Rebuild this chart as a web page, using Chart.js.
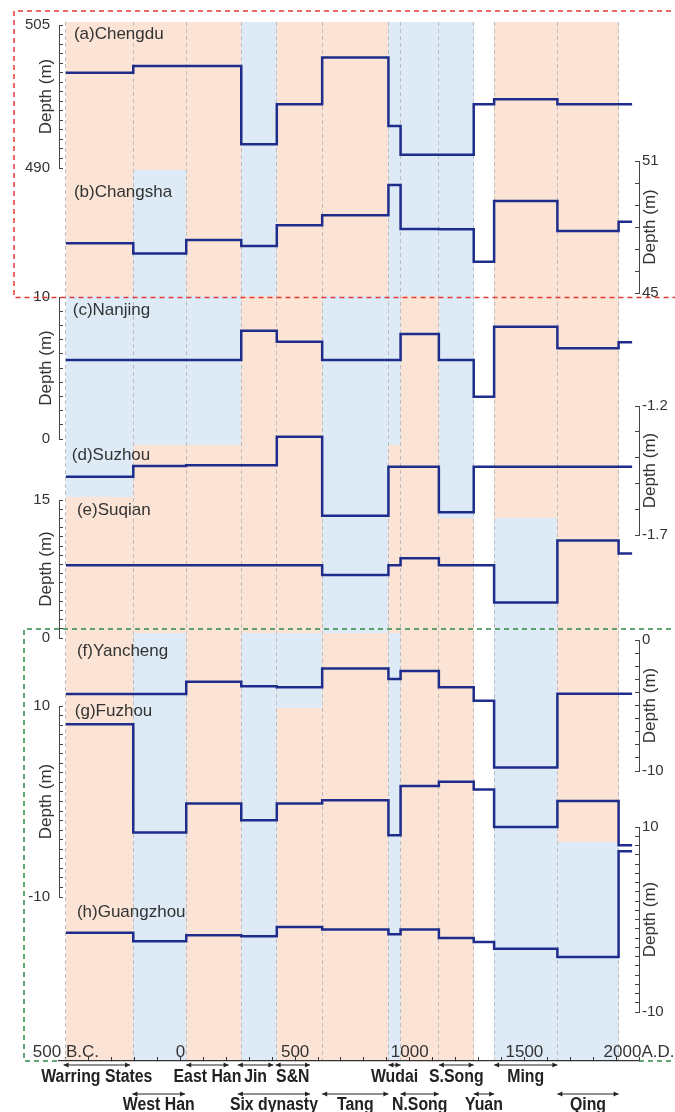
<!DOCTYPE html>
<html lang="en">
<head>
<meta charset="UTF-8">
<title>Depth of dynasty layers, eight cities</title>
<script src="https://cdn.jsdelivr.net/npm/chart.js@4.4.1/dist/chart.umd.min.js"></script>
<style>
  body { margin: 0; background: #fff; }
  #wrap { width: 675px; height: 1112px; }
</style>
</head>
<body>
<div id="wrap"><canvas id="depth-chart" width="675" height="1112"></canvas></div>
<script>
// period starts (year, negative = B.C.), last record runs to recordEnd
const periodStarts = [-500, -206, 25, 265, 420, 618, 907, 960, 1127, 1279, 1368, 1644, 1911];
const recordEnd = 1970;

// depth per period
const chengdu   = [500.0, 500.7, 500.7, 492.5, 496.7, 501.6, 494.4, 491.4, 491.4, 496.7, 497.2, 496.7, 496.7];
const changsha  = [47.26, 46.80, 47.41, 47.14, 48.08, 48.53, 49.91, 47.91, 47.90, 46.42, 49.18, 47.82, 48.24];
const nanjing   = [5.56, 5.56, 5.56, 7.63, 6.85, 5.56, 5.56, 7.39, 5.56, 2.98, 7.91, 6.39, 6.81];
const suzhou    = [-1.474, -1.433, -1.430, -1.430, -1.319, -1.625, -1.435, -1.435, -1.612, -1.435, -1.435, -1.435, -1.435];
const suqian    = [7.91, 7.91, 7.91, 7.91, 7.91, 6.84, 7.91, 8.68, 7.91, 7.91, 3.86, 10.59, 9.19];
const yancheng  = [-4.13, -4.13, -3.19, -3.54, -3.60, -2.17, -2.98, -2.37, -3.60, -4.64, -9.74, -4.11, -4.11];
const fuzhou    = [8.08, -3.25, -0.21, -1.96, -0.21, 0.14, -3.54, 1.61, 2.06, 1.26, -2.67, 0.06, -4.59];
const guangzhou = [-1.42, -2.36, -1.71, -1.82, -0.81, -1.09, -1.60, -1.09, -2.00, -2.43, -3.15, -4.05, 7.37];

const seriesValues = [chengdu, changsha, nanjing, suzhou, suqian, yancheng, fuzhou, guangzhou];
const panelNames = ['(a)Chengdu', '(b)Changsha', '(c)Nanjing', '(d)Suzhou', '(e)Suqian', '(f)Yancheng', '(g)Fuzhou', '(h)Guangzhou'];
const axisIds  = ['yA', 'yB', 'yC', 'yD', 'yE', 'yF', 'yG', 'yH'];
const axisMin  = [490, 45, 0, -1.7, 0, -10, -10, -10];
const axisMax  = [505, 51, 10, -1.2, 15, 0, 10, 10];
const axisStep = [1, 1, 1, 0.1, 1, 1, 1, 1];

// where each panel name sits (year, depth on its own axis)
const panelLabelYear  = [-465, -465, -470, -474, -452, -452, -461, -452];
const panelLabelDepth = [504.06, 49.59, 9.08, -1.39, 13.9, -0.84, 9.48, 0.78];

// warm (p) / cold (b) / none (w) shading per period, one row per horizontal strip
const bandAxes   = ['yA', 'yB', 'yC', 'yD', 'yD', 'yE', 'yF', 'yG', 'yH'];
const bandTop    = [505.3, 50.59, 10.04, -1.351, -1.553, 13.02, 0.54, 9.79, 8.35];
const bandBottom = [489.78, 44.84, -0.42, -1.553, -1.634, 0.34, -5.20, -4.27, -15.33];
const bandCodes  = [
  'pppbppbbbwpp',
  'pbpbppbbbwpp',
  'bbbppbbpbwpp',
  'bppppbppbwpp',
  'pppppbppbwpp',
  'pppppbpppwbp',
  'pbpbbpbppwbp',
  'pbpbppbppwbp',
  'pbpbppbppwbb'
];

// x axis labels
const xTickYears  = [-500, 0, 500, 1000, 1500, 2000];
const xTickLabels = ['500 B.C.', '0', '500', '1000', '1500', '2000A.D.'];

// dynasty spans under the axis
const upperNames = ['Warring States', 'East Han', 'Jin', 'S&N', 'Wudai', 'S.Song', 'Ming'];
const upperFrom  = [-510, 25, 250, 415, 907, 1127, 1368];
const upperTo    = [-220, 210, 405, 565, 960, 1279, 1644];
const lowerNames = ['West Han', 'Six dynasty', 'Tang', 'N.Song', 'Yuan', 'Qing'];
const lowerFrom  = [-210, 250, 618, 960, 1279, 1644];
const lowerTo    = [20, 565, 907, 1127, 1368, 1911];

const PEACH = '#fbe4d5';
const BLUE = '#deebf7';
const LINE = '#1e2c8c';
const TXT = '#333';
const FONT = "'Liberation Sans', Arial, sans-serif";

function makeTicks(min, max, step) {
  const out = [];
  const n = Math.round((max - min) / step);
  for (let i = 0; i <= n; i++) out.push({ value: Math.round((min + i * step) * 1000) / 1000 });
  return out;
}

// x axis labels hang over the edges; don't let them squeeze the plot
function noEdgePadding(s) {
  s.paddingLeft = 0; s.paddingRight = 0;
}

const scales = {
  x: {
    type: 'linear', position: 'bottom', min: -530, max: 2000,
    afterBuildTicks: s => { s.ticks = makeTicks(-500, 2000, 100); },
    afterFit: s => { s.height = 1; noEdgePadding(s); },
    ticks: {
      autoSkip: false, maxRotation: 0, mirror: true, padding: -2, color: TXT,
      font: { size: 17, family: FONT },
      callback: v => { const k = xTickYears.indexOf(v); return k >= 0 ? xTickLabels[k] : ''; }
    },
    grid: { drawOnChartArea: false, drawTicks: true, tickLength: -4, tickColor: '#333' },
    border: { display: true, color: '#333', width: 1.2 }
  },
  xg: {
    type: 'linear', position: 'bottom', min: -530, max: 2000,
    afterBuildTicks: s => { s.ticks = periodStarts.map(v => ({ value: v })); },
    afterFit: s => { s.height = 0; noEdgePadding(s); },
    ticks: { display: false },
    grid: { color: '#bdbdbd', lineWidth: 1, drawTicks: false },
    border: { display: false, dash: [4, 3] }
  }
};

// left and right stacks of axes, gaps filled with hidden axes
const leftStack  = [['Lg0', 3], ['yA', 143], ['Lg1', 129], ['yC', 142], ['Lg2', 61], ['yE', 138], ['Lg3', 68], ['yG', 191], ['Lg4', 164]];
const rightStack = [['Rg0', 139], ['yB', 132], ['Rg1', 113], ['yD', 129], ['Rg2', 105], ['yF', 131], ['Rg3', 56], ['yH', 185], ['Rg4', 49]];

function addStack(list, pos) {
  list.forEach(([id, h], i) => {
    const weight = pos === 'left' ? list.length - i : i + 1;
    const k = axisIds.indexOf(id);
    if (k < 0) {
      scales[id] = { type: 'linear', display: false, position: pos, stack: pos, stackWeight: h, weight: weight };
      return;
    }
    const min = axisMin[k], max = axisMax[k];
    scales[id] = {
      type: 'linear', position: pos, stack: pos, stackWeight: h, weight: weight,
      min: min, max: max,
      afterBuildTicks: s => { s.ticks = makeTicks(min, max, axisStep[k]); },
      afterFit: s => { s.width = pos === 'left' ? 59 : 36; },
      ticks: {
        autoSkip: false, padding: pos === 'left' ? 13 : 7, color: TXT,
        font: { size: 15, family: FONT },
        callback: v => (Math.abs(v - min) < 1e-6 || Math.abs(v - max) < 1e-6) ? String(Math.round(v * 10) / 10) : ''
      },
      grid: { drawOnChartArea: false, drawTicks: true, tickLength: -4, tickColor: '#444', lineWidth: 1 },
      border: { display: true, color: '#444', width: 1 }
    };
  });
}
addStack(leftStack, 'left');
addStack(rightStack, 'right');

const datasets = seriesValues.map((vals, i) => ({
  label: panelNames[i],
  yAxisID: axisIds[i],
  xAxisID: 'x',
  data: periodStarts.map((yr, k) => ({ x: yr, y: vals[k] })).concat([{ x: recordEnd, y: vals[vals.length - 1] }]),
  stepped: true,
  borderColor: LINE,
  borderWidth: 2.5,
  pointRadius: 0,
  fill: false
}));

const bandPlugin = {
  id: 'bands',
  beforeDraw(chart) {
    const ctx = chart.ctx, xs = chart.scales.x;
    ctx.save();
    bandCodes.forEach((row, r) => {
      const ys = chart.scales[bandAxes[r]];
      const top = Math.round(ys.getPixelForValue(bandTop[r]));
      const bot = Math.round(ys.getPixelForValue(bandBottom[r]));
      for (let c = 0; c < row.length; c++) {
        if (row[c] === 'w') continue;
        const x0 = Math.round(xs.getPixelForValue(periodStarts[c]));
        const x1 = Math.round(xs.getPixelForValue(periodStarts[c + 1]));
        ctx.fillStyle = row[c] === 'p' ? PEACH : BLUE;
        ctx.fillRect(x0, top, x1 - x0, bot - top);
      }
    });
    ctx.restore();
  }
};

function arrow(ctx, x0, x1, y) {
  ctx.beginPath();
  ctx.moveTo(x0, y); ctx.lineTo(x1, y);
  ctx.stroke();
  [[x0, 1], [x1, -1]].forEach(([x, d]) => {
    ctx.beginPath();
    ctx.moveTo(x, y);
    ctx.lineTo(x + d * 5, y - 2.5);
    ctx.lineTo(x + d * 5, y + 2.5);
    ctx.closePath();
    ctx.fill();
  });
}

// narrow bold text: squeeze a bold face sideways
function narrowText(ctx, text, cx, y) {
  ctx.save();
  ctx.translate(cx, y);
  ctx.scale(0.88, 1);
  ctx.fillText(text, 0, 0);
  ctx.restore();
}

const notesPlugin = {
  id: 'notes',
  afterDraw(chart) {
    const ctx = chart.ctx, xs = chart.scales.x, area = chart.chartArea;
    ctx.save();

    // panel names
    ctx.fillStyle = TXT;
    ctx.font = '17px ' + FONT;
    ctx.textAlign = 'left';
    ctx.textBaseline = 'middle';
    panelNames.forEach((name, i) => {
      ctx.fillText(name, xs.getPixelForValue(panelLabelYear[i]), chart.scales[axisIds[i]].getPixelForValue(panelLabelDepth[i]));
    });

    // axis titles, reading upwards on both sides
    ctx.textAlign = 'center';
    axisIds.forEach(id => {
      const s = chart.scales[id];
      const x = s.position === 'left' ? s.right - 13 : s.left + 11;
      ctx.save();
      ctx.translate(x, (s.top + s.bottom) / 2);
      ctx.rotate(-Math.PI / 2);
      ctx.fillText('Depth (m)', 0, 0);
      ctx.restore();
    });

    // dynasty rows
    ctx.fillStyle = '#222';
    ctx.strokeStyle = '#222';
    ctx.lineWidth = 1;
    ctx.font = 'bold 18px ' + FONT;
    const rows = [[upperNames, upperFrom, upperTo, 4, 16], [lowerNames, lowerFrom, lowerTo, 33, 44]];
    rows.forEach(([names, from, to, ay, ty]) => {
      names.forEach((name, i) => {
        const x0 = xs.getPixelForValue(from[i]), x1 = xs.getPixelForValue(to[i]);
        arrow(ctx, x0, x1, area.bottom + ay);
        narrowText(ctx, name, (x0 + x1) / 2, area.bottom + ty);
      });
    });

    // dashed frames round the two groups
    ctx.lineWidth = 1.5;
    ctx.setLineDash([5, 4]);
    const yA = chart.scales.yA, yB = chart.scales.yB, yE = chart.scales.yE;
    const redLeft = area.left - 45, redTop = yA.top - 14;
    const redBottom = Math.round(yB.getPixelForValue(bandBottom[1])) + 0.5;
    ctx.strokeStyle = '#e53935';
    ctx.beginPath();
    ctx.moveTo(chart.width + 5, redTop);
    ctx.lineTo(redLeft, redTop);
    ctx.lineTo(redLeft, redBottom);
    ctx.lineTo(chart.width + 5, redBottom);
    ctx.stroke();

    const greenLeft = area.left - 35, greenTop = yE.bottom - 9, greenBottom = area.bottom;
    ctx.strokeStyle = '#2e8b46';
    ctx.beginPath();
    ctx.moveTo(chart.width + 5, greenTop);
    ctx.lineTo(greenLeft, greenTop);
    ctx.lineTo(greenLeft, greenBottom);
    ctx.lineTo(area.left, greenBottom);
    ctx.moveTo(area.right, greenBottom);
    ctx.lineTo(chart.width + 5, greenBottom);
    ctx.stroke();
    ctx.restore();
  }
};

new Chart(document.getElementById('depth-chart').getContext('2d'), {
  type: 'line',
  data: { datasets: datasets },
  options: {
    responsive: false,
    animation: false,
    layout: { padding: { top: 22, bottom: 50, left: 0, right: 0 } },
    plugins: { legend: { display: false }, tooltip: { enabled: false } },
    scales: scales
  },
  plugins: [bandPlugin, notesPlugin]
});
</script>
</body>
</html>
